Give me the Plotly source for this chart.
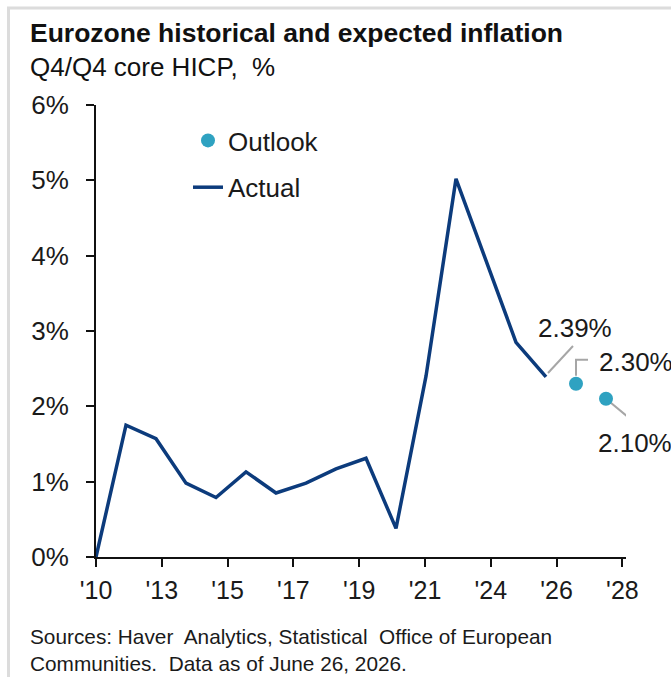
import numpy as np
import plotly.graph_objects as go

# Core HICP, Q4/Q4 %, actuals 2010-2025 and outlook 2026-2027
actual_years = list(range(2010, 2026))
actual_values = [0.00, 1.75, 1.57, 0.98, 0.79, 1.13, 0.85, 0.98, 1.17, 1.31,
                 0.38, 2.40, 5.02, 3.93, 2.85, 2.39]
outlook_years = [2026, 2027]
outlook_values = [2.30, 2.10]

tick_labels = ["'10", "'13", "'15", "'17", "'19", "'21", "'24", "'26", "'28"]
y_ticks = [0, 1, 2, 3, 4, 5, 6]

W, H = 671, 677
M_L, M_R, M_T, M_B = 96, 45, 105, 120
PW, PH = W - M_L - M_R, H - M_T - M_B

X_MIN = 2010
X_MAX = X_MIN + PW / 30.0
tick_pos = list(np.linspace(X_MIN, X_MIN + 8 * 65.8 / 30.0, len(tick_labels)))

LINE_COLOR = "#0C3B7C"
DOT_COLOR = "#2FA2C1"
LEADER = "#A6A6A6"
FONT = "Liberation Sans, Arial, sans-serif"


def px(x):
    return (x - M_L) / PW


def py(y):
    return (H - M_B - y) / PH


fig = go.Figure()
fig.add_trace(go.Scatter(
    x=outlook_years, y=outlook_values, mode="markers", name="Outlook",
    legendgroup="a",
    marker=dict(size=14, color=DOT_COLOR),
))
fig.add_trace(go.Scatter(
    x=actual_years, y=actual_values, mode="lines", name="Actual",
    legendgroup="b",
    line=dict(color=LINE_COLOR, width=3.5),
))

# value labels for the last actual and both outlook points
labels = [
    (actual_years[-1], actual_values[-1], -10, 49),
    (outlook_years[0], outlook_values[0], 21, 22),
    (outlook_years[1], outlook_values[1], -10, -44),
]
for x, y, dx, dy in labels:
    fig.add_annotation(
        x=x, y=y, xref="x", yref="y", text=f"{y:.2f}%", showarrow=False,
        xanchor="left", yanchor="middle", xshift=dx, yshift=dy,
        font=dict(size=26, color="#1A1A1A", family=FONT),
    )

# leader lines, drawn in pixel offsets from each labelled point
leaders = [
    (actual_years[-1], actual_values[-1], "M 2,4 L 27,31"),
    (outlook_years[0], outlook_values[0], "M 0,8 L 0,24 L 12,24"),
    (outlook_years[1], outlook_values[1], "M 0,0 L 29,-24"),
]
for x, y, path in leaders:
    fig.add_shape(
        type="path", xref="x", yref="y", xsizemode="pixel", ysizemode="pixel",
        xanchor=x, yanchor=y, path=path, layer="below",
        line=dict(color=LEADER, width=2),
    )

# light frame around the panel
fig.add_shape(
    type="rect", xref="paper", yref="paper",
    x0=px(8.5), x1=px(W + 20), y0=py(H + 20), y1=py(8),
    line=dict(color="#DCDCDC", width=3), fillcolor="rgba(0,0,0,0)", layer="below",
)

fig.add_annotation(
    x=px(28), y=py(33), xref="paper", yref="paper", xanchor="left", yanchor="middle",
    text="<b>Eurozone historical and expected inflation</b>", showarrow=False,
    font=dict(size=26.5, color="#111111", family=FONT),
)
fig.add_annotation(
    x=px(28), y=py(67), xref="paper", yref="paper", xanchor="left", yanchor="middle",
    text="Q4/Q4 core HICP,  %", showarrow=False,
    font=dict(size=26, color="#111111", family=FONT),
)
fig.add_annotation(
    x=px(28), y=py(650), xref="paper", yref="paper", xanchor="left", yanchor="middle",
    text="Sources: Haver  Analytics, Statistical  Office of European<br>"
         "Communities.  Data as of June 26, 2026.",
    showarrow=False, align="left",
    font=dict(size=20.8, color="#1A1A1A", family=FONT),
)

fig.update_layout(
    width=W, height=H,
    margin=dict(l=M_L, r=M_R, t=M_T, b=M_B),
    paper_bgcolor="white", plot_bgcolor="white",
    font=dict(family=FONT, size=26, color="#1A1A1A"),
    showlegend=True,
    legend=dict(
        x=px(188), y=py(117), xanchor="left", yanchor="top",
        traceorder="grouped", tracegroupgap=10,
        font=dict(size=26, color="#1A1A1A"),
        bgcolor="rgba(0,0,0,0)", itemwidth=30,
    ),
    xaxis=dict(
        range=[X_MIN, X_MAX], tickmode="array", tickvals=tick_pos, ticktext=tick_labels,
        showgrid=False, zeroline=False, showline=True, linecolor="#111111", linewidth=2,
        ticks="outside", ticklen=8, tickwidth=2, tickcolor="#111111",
        tickfont=dict(size=25), ticklabelstandoff=2,
    ),
    yaxis=dict(
        range=[0, 6], tickmode="array", tickvals=y_ticks,
        ticktext=[f"{v}%" for v in y_ticks],
        showgrid=False, zeroline=False, showline=True, linecolor="#111111", linewidth=2,
        ticks="outside", ticklen=8, tickwidth=2, tickcolor="#111111",
        tickfont=dict(size=26), ticklabelstandoff=12,
    ),
)

fig.write_html("out.html")
